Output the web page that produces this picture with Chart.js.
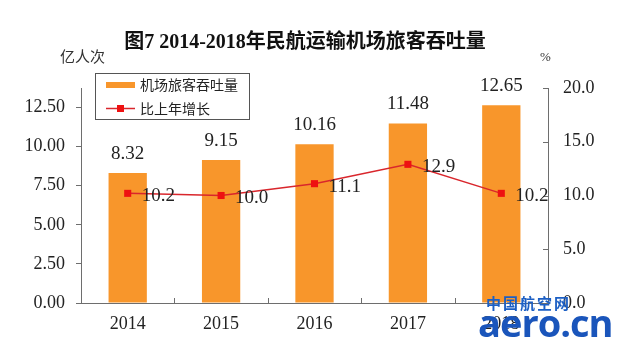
<!DOCTYPE html>
<html>
<head>
<meta charset="utf-8">
<script src="https://cdn.jsdelivr.net/npm/chart.js@4/dist/chart.umd.min.js"></script>
<style>
  html, body { margin: 0; padding: 0; background: #fff; }
  #wrap { position: relative; width: 640px; height: 345px; overflow: hidden; }
  canvas { display: block; }
  .wm1 { position: absolute; left: 486px; top: 292px; font: bold 15px "Noto Sans CJK SC", sans-serif; color: #1c5fc4; letter-spacing: 2px; }
  .wm2 { position: absolute; left: 478px; top: 300px; font: bold 38px "Open Sans", sans-serif; color: #1a55bb; letter-spacing: -1px; line-height: 44px; }
</style>
</head>
<body>
<div id="wrap">
  <canvas id="c" width="640" height="345"></canvas>
  <div class="wm1">中国航空网</div>
  <div class="wm2">aero.cn</div>
</div>
<script>
const years = ['2014', '2015', '2016', '2017', '2018'];
const throughput = [8.32, 9.15, 10.16, 11.48, 12.65];
const growth = [10.2, 10.0, 11.1, 12.9, 10.2];
const leftTicks = [0, 2.5, 5, 7.5, 10, 12.5];
const rightTicks = [0, 5, 10, 15, 20];
const titleText = '图7 2014-2018年民航运输机场旅客吞吐量';
const leftUnit = '亿人次';
const rightUnit = '%';
const seriesNames = ['机场旅客吞吐量', '比上年增长'];

const BAR = '#F8962B';
const LINE = '#D9262C';
const PT = '#EE1111';
const AXIS = '#6e6e6e';
const SERIF = '"Liberation Serif", "Noto Sans CJK SC", serif';
const CJK = '"Noto Sans CJK SC", sans-serif';

const decor = {
  id: 'decor',
  afterDatasetsDraw(chart) {
    const ctx = chart.ctx;
    const xs = chart.scales.x, y1 = chart.scales.y1;
    const ca = chart.chartArea;
    ctx.save();
    // inward ticks on x axis (category boundaries)
    ctx.strokeStyle = AXIS; ctx.lineWidth = 1;
    for (let i = 1; i < years.length; i++) {
      const x = Math.round((xs.getPixelForValue(i - 1) + xs.getPixelForValue(i)) / 2) + 0.5;
      ctx.beginPath(); ctx.moveTo(x, ca.bottom); ctx.lineTo(x, ca.bottom - 5); ctx.stroke();
    }
    // inward ticks on right axis
    rightTicks.forEach(v => {
      const y = Math.round(y1.getPixelForValue(v)) + 0.5;
      ctx.beginPath(); ctx.moveTo(ca.right, y); ctx.lineTo(ca.right - 5, y); ctx.stroke();
    });
    // bar value labels
    ctx.fillStyle = '#222';
    ctx.font = '19px ' + SERIF;
    ctx.textAlign = 'center'; ctx.textBaseline = 'middle';
    chart.getDatasetMeta(0).data.forEach((el, i) => {
      ctx.fillText(throughput[i].toFixed(2), el.x, el.y - 19);
    });
    // line value labels
    ctx.textAlign = 'left';
    chart.getDatasetMeta(1).data.forEach((el, i) => {
      ctx.fillText(growth[i].toFixed(1), el.x + 14, el.y + 3);
    });
    // title
    ctx.fillStyle = '#111';
    ctx.font = 'bold 20px ' + SERIF;
    ctx.textAlign = 'center';
    ctx.fillText(titleText, 305, 43);
    // units
    ctx.fillStyle = '#333';
    ctx.font = '15px ' + CJK;
    ctx.textAlign = 'left';
    ctx.fillText(leftUnit, 60, 56);
    ctx.font = '13px ' + SERIF;
    ctx.fillText(rightUnit, 540, 58);
    // legend
    ctx.strokeStyle = '#555'; ctx.lineWidth = 1;
    ctx.fillStyle = '#fff';
    ctx.fillRect(95.5, 73.5, 154, 46);
    ctx.strokeRect(95.5, 73.5, 154, 46);
    ctx.fillStyle = BAR;
    ctx.fillRect(106, 82, 29, 6);
    ctx.strokeStyle = LINE; ctx.lineWidth = 1.5;
    ctx.beginPath(); ctx.moveTo(106, 108.5); ctx.lineTo(135, 108.5); ctx.stroke();
    ctx.fillStyle = PT;
    ctx.fillRect(117, 105, 7, 7);
    ctx.fillStyle = '#222';
    ctx.font = '14px ' + CJK;
    ctx.textBaseline = 'middle';
    ctx.fillText(seriesNames[0], 140, 85);
    ctx.fillText(seriesNames[1], 140, 109);
    ctx.restore();
  }
};

new Chart(document.getElementById('c'), {
  type: 'bar',
  data: {
    labels: years,
    datasets: [
      {
        label: seriesNames[0],
        data: throughput,
        backgroundColor: BAR,
        yAxisID: 'y',
        categoryPercentage: 1,
        barPercentage: 0.41,
        order: 2
      },
      {
        type: 'line',
        label: seriesNames[1],
        data: growth,
        yAxisID: 'y1',
        borderColor: LINE,
        borderWidth: 1.5,
        pointStyle: 'rect',
        pointRadius: 5,
        pointBackgroundColor: PT,
        pointBorderColor: PT,
        pointBorderWidth: 0,
        tension: 0,
        order: 1
      }
    ]
  },
  options: {
    responsive: false,
    animation: false,
    layout: { padding: { top: 88, left: 0, right: 0, bottom: 0 } },
    plugins: { legend: { display: false }, title: { display: false }, tooltip: { enabled: false } },
    scales: {
      x: {
        offset: true,
        grid: { display: true, drawOnChartArea: false, drawTicks: false, offset: true },
        border: { display: true, color: AXIS, width: 1 },
        ticks: { color: '#222', font: { family: SERIF, size: 18 }, padding: 10, maxRotation: 0 },
        afterFit(s) { s.height = 42; }
      },
      y: {
        position: 'left',
        min: 0,
        max: 13.75,
        afterBuildTicks(s) { s.ticks = leftTicks.map(v => ({ value: v })); },
        grid: { display: true, drawOnChartArea: false, drawTicks: true, tickLength: 5, color: AXIS },
        border: { display: true, color: AXIS, width: 1 },
        ticks: { color: '#222', font: { family: SERIF, size: 18 }, padding: 11, callback: v => Number(v).toFixed(2) },
        afterFit(s) { s.width = 81; }
      },
      y1: {
        position: 'right',
        min: 0,
        max: 20,
        afterBuildTicks(s) { s.ticks = rightTicks.map(v => ({ value: v })); },
        grid: { display: true, drawOnChartArea: false, drawTicks: false },
        border: { display: true, color: AXIS, width: 1 },
        ticks: { color: '#222', font: { family: SERIF, size: 18 }, padding: 15, callback: v => Number(v).toFixed(1) },
        afterFit(s) { s.width = 92; }
      }
    }
  },
  plugins: [decor]
});
</script>
</body>
</html>
